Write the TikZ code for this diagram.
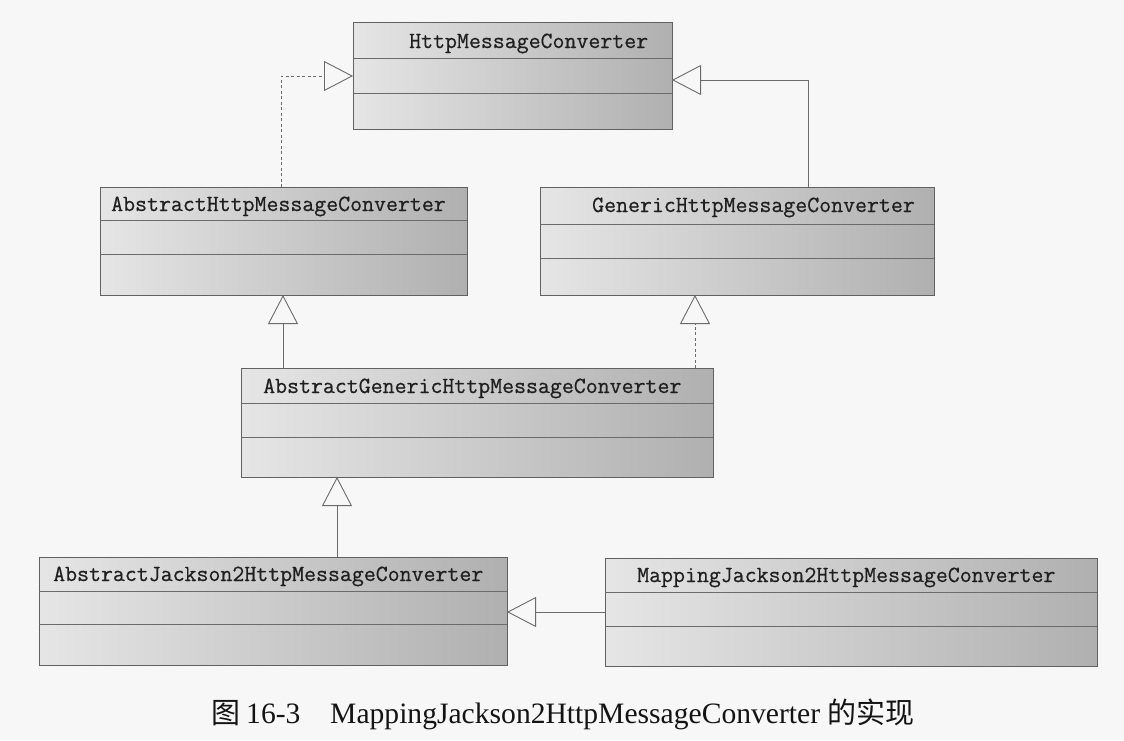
\documentclass[tikz,border=0pt]{standalone}
\usepackage{fontspec}
\newfontfamily\capfont{Liberation Serif}
\newfontfamily\cjk{Noto Sans CJK SC}
\newfontfamily\clsfont[FakeBold=0.6]{Latin Modern Mono}
\usetikzlibrary{arrows.meta}
\tikzset{
 clsbox/.style={draw=black!62, line width=0.9pt, left color=black!10, right color=black!31, inner sep=0pt, outer sep=0pt},
 divider/.style={draw=black!58, line width=0.9pt},
 clsname/.style={anchor=base west, inner sep=0pt, font=\clsfont\fontsize{23.2}{26}\selectfont, text=black!88},
 inherit/.style={draw=black!58, line width=0.9pt, -{Triangle[open, length=29pt, width=30pt]}},
 realize/.style={inherit, dash pattern=on 3pt off 2.5pt},
 captext/.style={inner sep=0pt, text=black!92},
}
\newcommand{\umlcls}[7]{%
 \node[clsbox, minimum width={(#4-#2)*1pt}, minimum height={(#5-#3)*1pt}] (#1) at ({(#2+#4)/2},{(#3+#5)/2}) {};
 \draw[divider] (#2,#6) -- (#4,#6);
 \draw[divider] (#2,#7) -- (#4,#7);
}
\begin{document}
\begin{tikzpicture}[x=1pt,y=-1pt]
\useasboundingbox (0,0) rectangle (1124,740);
\fill[black!3] (0,0) rectangle (1124,740);

\umlcls{hmc}{353}{22}{672}{129}{58}{93}
\node[clsname] (hmct) at (409,48) {HttpMessageConverter};

\umlcls{ahc}{100}{187}{467}{295}{220}{254}
\node[clsname] (ahct) at (111,211) {AbstractHttpMessageConverter};

\umlcls{gen}{540}{187}{934}{295}{224}{258}
\node[clsname] (gent) at (592,212) {GenericHttpMessageConverter};

\umlcls{agc}{241}{368}{713}{477}{403}{437}
\node[clsname] (agct) at (263,393) {AbstractGenericHttpMessageConverter};

\umlcls{ajc}{39}{557}{507}{665}{591}{624}
\node[clsname] (ajct) at (53,581) {AbstractJackson2HttpMessageConverter};

\umlcls{mjc}{605}{558}{1097}{666}{592}{626}
\node[clsname] (mjct) at (637,582) {MappingJackson2HttpMessageConverter};

\coordinate (j1) at (281,76);
\coordinate (j2) at (808,80);
\coordinate (j3) at (283,0);
\coordinate (j4) at (695,0);
\coordinate (j5) at (337,0);
\coordinate (j6) at (0,612);

\draw[realize] (ahc.north -| j1) -- (j1) -- (hmc.west |- j1);
\draw[inherit] (gen.north -| j2) -- (j2) -- (hmc.east |- j2);
\draw[inherit] (agc.north -| j3) -- (ahc.south -| j3);
\draw[realize] (agc.north -| j4) -- (gen.south -| j4);
\draw[inherit] (ajc.north -| j5) -- (agc.south -| j5);
\draw[inherit] (mjc.west |- j6) -- (ajc.east |- j6);

\node[captext, anchor=base west] (capa) at (211,723) {{\cjk\fontsize{29}{32}\selectfont 图}\hspace{6pt}{\capfont\fontsize{29.6}{32}\selectfont 16-3}};
\node[captext, anchor=base west] (capb) at (330,723) {\capfont\fontsize{29.6}{32}\selectfont MappingJackson2HttpMessageConverter};
\node[captext, anchor=base east] (capc) at (915,723) {\cjk\fontsize{29}{32}\selectfont 的实现};
\end{tikzpicture}
\end{document}
